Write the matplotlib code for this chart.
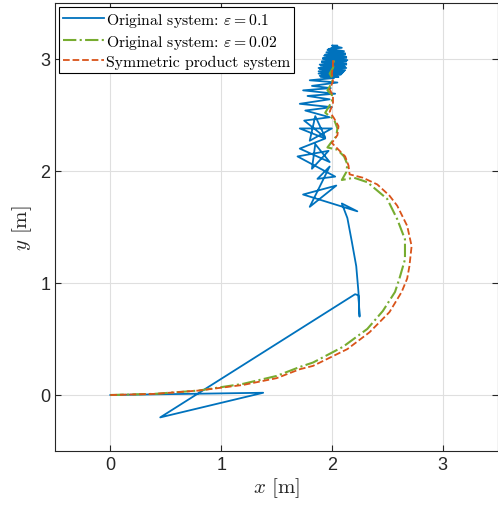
import matplotlib
matplotlib.use("Agg")
import matplotlib.pyplot as plt

plt.rcParams['mathtext.fontset'] = 'cm'
plt.rcParams['font.family'] = ['Liberation Sans', 'DejaVu Sans']

# ---- data ----
# Original system eps = 0.1 (blue)
blue_x = [0.0, 1.38, 0.45, 2.21, 2.24, 2.25, 2.24, 2.22, 2.18, 2.14, 2.09,
          2.23, 1.74, 2.04, 1.80, 1.98, 1.87, 2.03,
          1.69, 1.97, 1.82, 1.85, 1.98, 1.71, 1.94,
          1.71, 2.00, 1.80, 1.85, 1.94, 1.75, 1.98,
          1.76, 2.00, 1.71, 1.98, 1.78, 2.03, 1.74, 1.99, 1.82, 2.05, 1.80, 2.02,
          1.90, 2.08, 1.88, 2.11, 1.89, 2.13, 1.90, 2.13, 1.91, 2.13, 1.92, 2.13,
          1.93, 2.12, 1.95, 2.11, 1.97, 2.09, 2.00, 2.05,
          1.96, 2.12, 1.94, 2.13, 1.92, 2.14, 1.91, 2.13, 1.89, 2.12, 1.88, 2.12,
          1.88, 2.09, 1.89, 2.06,
          1.91, 2.10, 1.93, 2.11, 1.94, 2.10, 1.96, 2.08, 1.99, 2.04, 2.02]
blue_y = [0.0, 0.02, -0.20, 0.90, 0.89, 0.70, 0.92, 1.15, 1.37, 1.58, 1.71,
          1.64, 1.79, 1.87, 1.68, 2.04, 1.93, 1.95,
          2.13, 2.18, 2.02, 2.24, 2.08, 2.20, 2.29,
          2.38, 2.38, 2.27, 2.49, 2.30, 2.45, 2.48,
          2.54, 2.57, 2.60, 2.64, 2.67, 2.69, 2.72, 2.74, 2.76, 2.79, 2.81, 2.83,
          2.84, 2.86, 2.87, 2.89, 2.91, 2.92, 2.94, 2.95, 2.97, 2.98, 3.00, 3.01,
          3.03, 3.04, 3.06, 3.07, 3.09, 3.10, 3.12, 3.12,
          3.08, 3.05, 3.04, 3.02, 3.01, 2.99, 2.98, 2.96, 2.95, 2.93, 2.92, 2.90,
          2.89, 2.87, 2.85, 2.84,
          2.86, 2.88, 2.91, 2.94, 2.97, 3.00, 3.03, 3.05, 3.08, 3.10, 3.00]

# Original system eps = 0.02 (green)
green_x = [0.0, 0.4, 0.8, 1.2, 1.50, 1.71, 1.83, 2.10, 2.32, 2.46, 2.57, 2.61,
           2.66, 2.66, 2.59, 2.50, 2.32, 2.20, 2.09,
           2.13, 2.14, 2.11, 2.05, 1.96, 1.99, 2.04, 2.05, 2.02, 1.94,
           1.97, 2.00, 2.00, 1.96, 1.99, 2.01, 1.98, 2.01, 2.02, 2.01]
green_y = [0.0, 0.01, 0.04, 0.10, 0.17, 0.25, 0.29, 0.43, 0.59, 0.75, 0.92, 1.04,
           1.21, 1.39, 1.57, 1.75, 1.90, 1.94, 1.92,
           1.99, 2.06, 2.13, 2.19, 2.21, 2.25, 2.31, 2.38, 2.46, 2.52,
           2.57, 2.62, 2.68, 2.72, 2.77, 2.82, 2.87, 2.92, 2.97, 3.00]

# Symmetric product system (orange)
orange_x = [0.0, 0.4, 0.8, 1.2, 1.50, 1.71, 1.83, 2.14, 2.34, 2.52, 2.63, 2.68,
            2.70, 2.72, 2.68, 2.59, 2.52, 2.41, 2.28, 2.16,
            2.15, 2.12, 2.05, 2.00, 2.05, 2.06, 2.02, 1.98, 2.01, 2.01,
            1.98, 2.01, 2.00, 2.01, 2.01]
orange_y = [0.0, 0.01, 0.04, 0.09, 0.15, 0.23, 0.26, 0.41, 0.56, 0.74, 0.92, 1.04,
            1.15, 1.33, 1.51, 1.69, 1.78, 1.88, 1.94, 1.97,
            2.05, 2.13, 2.20, 2.25, 2.32, 2.40, 2.47, 2.53, 2.60, 2.67,
            2.73, 2.80, 2.87, 2.94, 3.00]

labels = [r'Original system: $\varepsilon = 0.1$',
          r'Original system: $\varepsilon = 0.02$',
          'Symmetric product system']
ticks = [0, 1, 2, 3]

fig = plt.figure(figsize=(4.98, 5.10), dpi=100)
ax = fig.add_axes([55/498, 58/510, 443/498, 448/510])

ax.plot(blue_x, blue_y, '-', color='#0072BD', lw=1.3, label=labels[0])
ax.plot(green_x, green_y, '-.', color='#77AC30', lw=1.5, label=labels[1])
ax.plot(orange_x, orange_y, '--', color='#D95319', lw=1.3, label=labels[2])

ax.set_xlim(-0.5, 3.5)
ax.set_ylim(-0.5, 3.5)
ax.set_xticks(ticks)
ax.set_yticks(ticks)
ax.grid(True, color='#dfdfdf', lw=0.8)
ax.set_axisbelow(True)
ax.tick_params(direction='in', length=4, labelsize=13, colors='#262626',
               top=True, right=True)
for s in ax.spines.values():
    s.set_color('#262626')
    s.set_linewidth(0.8)

ax.set_xlabel(r'$x$ [m]', fontsize=15, color='#262626', labelpad=2,
              family='cmr10')
ax.set_ylabel(r'$y$ [m]', fontsize=15, color='#262626', labelpad=4,
              family='cmr10')

leg = ax.legend(loc='upper left', prop={'family': 'cmr10', 'size': 11.3},
                frameon=True, fancybox=False,
                edgecolor='black', framealpha=1, borderpad=0.25, labelspacing=0.25,
                handlelength=2.6, handletextpad=0.12, borderaxespad=0.25)
leg.get_frame().set_linewidth(0.8)

fig.savefig('out.png', dpi=100)
